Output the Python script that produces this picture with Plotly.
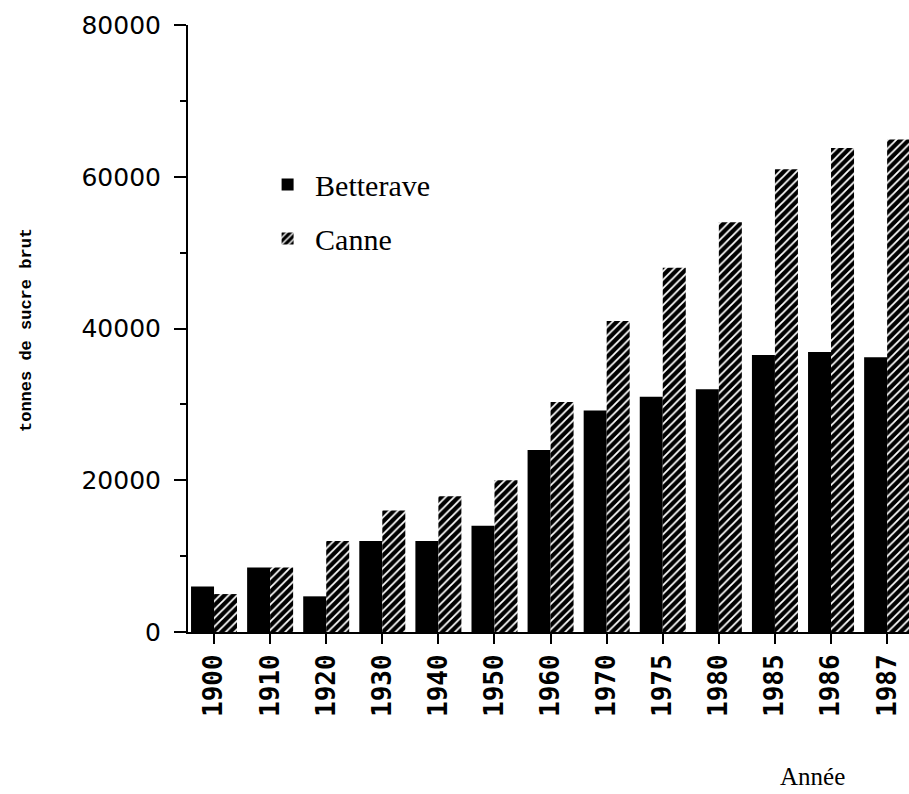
import plotly.graph_objects as go

annees = ["1900", "1910", "1920", "1930", "1940", "1950", "1960",
          "1970", "1975", "1980", "1985", "1986", "1987"]
betterave = [6000, 8500, 4700, 12000, 12000, 14000, 24000,
             29200, 31000, 32000, 36500, 36900, 36200]
canne = [5000, 8500, 12000, 16000, 17900, 20000, 30300,
         41000, 48000, 54000, 61000, 63800, 64900]
y_ticks = [0, 20000, 40000, 60000, 80000]

fig = go.Figure()
fig.add_trace(go.Bar(
    x=annees, y=betterave, name="Betterave", legendgroup="b",
    marker=dict(color="black", line=dict(width=0)),
))
fig.add_trace(go.Bar(
    x=annees, y=canne, name="Canne", legendgroup="c",
    marker=dict(color="black", line=dict(width=0),
                pattern=dict(shape="/", fgcolor="white", bgcolor="black",
                             size=6, solidity=0.3, fillmode="replace")),
))

fig.update_layout(
    width=909, height=794,
    margin=dict(l=188, r=0, t=25, b=162),
    paper_bgcolor="white", plot_bgcolor="white",
    barmode="group", bargap=0.18, bargroupgap=0,
    showlegend=True,
    legend=dict(x=0.1, y=0.78, xanchor="left", yanchor="top",
                bgcolor="rgba(0,0,0,0)", traceorder="grouped",
                tracegroupgap=12, itemwidth=45,
                font=dict(family="Liberation Serif", size=30, color="black")),
    xaxis=dict(
        type="category", range=[-0.464, 12.39],
        showline=True, linecolor="black", linewidth=2,
        ticks="outside", ticklen=10, tickwidth=2, tickcolor="black",
        tickangle=-90,
        tickfont=dict(family="DejaVu Sans Mono", size=26, color="black", weight="bold"),
        showgrid=False, zeroline=False,
    ),
    yaxis=dict(
        range=[0, 80000], tickvals=y_ticks, ticktext=[str(v) for v in y_ticks],
        showline=True, linecolor="black", linewidth=2,
        ticks="outside", ticklen=12, tickwidth=2, tickcolor="black",
        ticklabelstandoff=8,
        minor=dict(dtick=10000, ticks="outside", ticklen=6, tickwidth=2, tickcolor="black"),
        tickfont=dict(family="DejaVu Sans", size=25, color="black"),
        showgrid=False, zeroline=False,
    ),
    annotations=[
        dict(text="<b>tonnes de sucre brut</b>", textangle=-90, showarrow=False,
             xref="paper", yref="paper", x=(26 - 188) / 721, y=(632 - 330) / 607,
             xanchor="center", yanchor="middle",
             font=dict(family="Liberation Mono", size=17, color="black")),
        dict(text="Année", showarrow=False,
             xref="paper", yref="paper", x=(812 - 188) / 721, y=(632 - 776) / 607,
             xanchor="center", yanchor="middle",
             font=dict(family="Liberation Serif", size=25, color="black")),
    ],
)

fig.write_html("out.html", config={"displayModeBar": False},
               post_script="document.body.style.margin='0';document.body.style.overflow='hidden';")
